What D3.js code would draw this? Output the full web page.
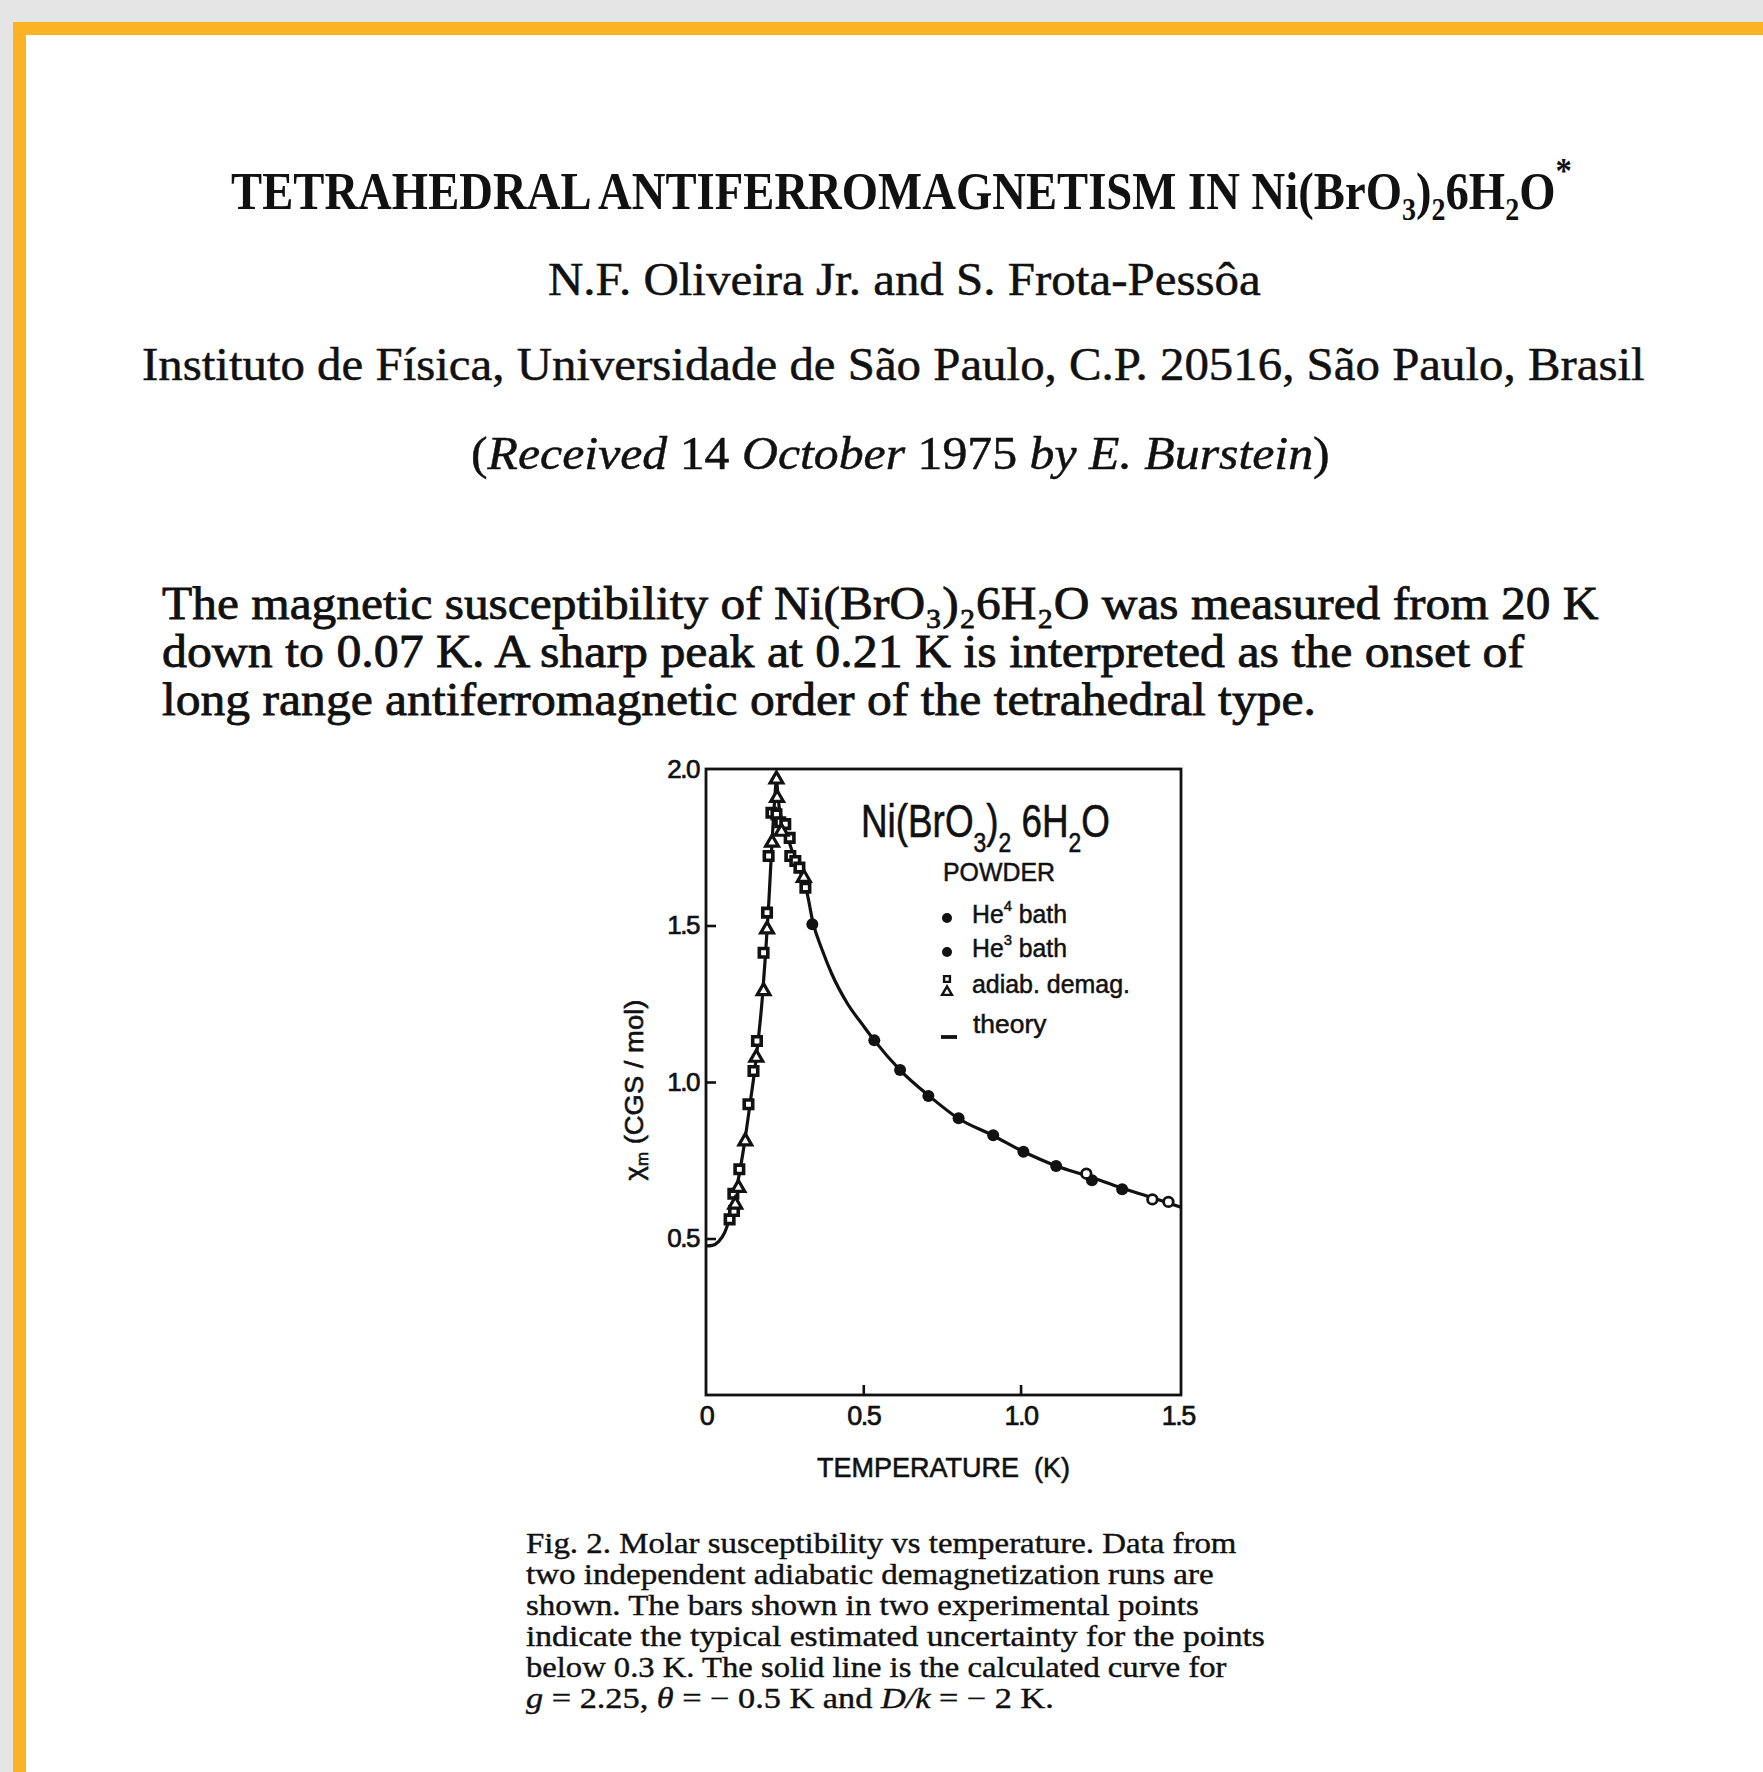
<!DOCTYPE html>
<html>
<head>
  <meta charset="UTF-8">
  <style>
    body { margin: 0; background: #e5e5e5; }
    svg { display: block; }
    text { white-space: pre; }
  </style>
</head>
<body>
<svg></svg>
<script src="https://d3js.org/d3.v7.min.js"></script>
<script>

// values: temperature (K) and molar susceptibility (CGS/mol)
const theoryT   = [0, 0.02, 0.04, 0.06, 0.08, 0.10, 0.12, 0.14, 0.16, 0.18, 0.19, 0.20, 0.21, 0.218, 0.224,
                   0.23, 0.24, 0.26, 0.28, 0.30, 0.32, 0.34, 0.37, 0.40, 0.45, 0.50, 0.535, 0.62, 0.71,
                   0.80, 0.91, 1.01, 1.11, 1.22, 1.32, 1.42, 1.51];
const theoryChi = [0.476, 0.478, 0.49, 0.52, 0.585, 0.675, 0.79, 0.93, 1.08, 1.28, 1.42, 1.58, 1.77, 1.90, 1.98,
                   1.90, 1.84, 1.78, 1.72, 1.67, 1.61, 1.51, 1.42, 1.345, 1.25, 1.18, 1.133, 1.035, 0.955,
                   0.885, 0.83, 0.777, 0.733, 0.697, 0.662, 0.63, 0.60];

const he3T   = [0.338, 0.535, 0.617, 0.707, 0.803, 0.913, 1.009, 1.113, 1.227, 1.323];
const he3Chi = [1.504, 1.133, 1.038, 0.955, 0.884, 0.830, 0.777, 0.732, 0.686, 0.657];

const he4T   = [1.209, 1.419, 1.47];
const he4Chi = [0.707, 0.625, 0.617];

// adiabatic demagnetization, run with squares
const sqT   = [0.075, 0.087, 0.089, 0.106, 0.135, 0.151, 0.162, 0.183, 0.194, 0.199, 0.208, 0.224,
               0.236, 0.252, 0.266, 0.268, 0.284, 0.297, 0.316];
const sqChi = [0.561, 0.643, 0.588, 0.721, 0.929, 1.035, 1.131, 1.413, 1.541, 1.722, 1.86, 1.855,
               1.83, 1.824, 1.78, 1.722, 1.706, 1.685, 1.621];

// adiabatic demagnetization, run with triangles
const triT   = [0.093, 0.103, 0.125, 0.16, 0.183, 0.194, 0.21, 0.224, 0.226, 0.24, 0.311];
const triChi = [0.609, 0.662, 0.811, 1.078, 1.291, 1.488, 1.765, 1.967, 1.908, 1.80, 1.653];

const xTicks = [0, 0.5, 1.0, 1.5];
const yTicks = [0.5, 1.0, 1.5, 2.0];

const width = 1763, height = 1772;
const ink = "#111";
const serif = "'Liberation Serif', 'DejaVu Serif', serif";
const sans = "'Liberation Sans', Arial, sans-serif";

let svg = d3.select("svg")
    .attr("width", width)
    .attr("height", height);

// page frame
svg.append("rect").attr("width", width).attr("height", height).attr("fill", "#e5e5e5");
svg.append("rect").attr("x", 13).attr("y", 22).attr("width", width - 13).attr("height", height - 22).attr("fill", "#fbb324");
svg.append("rect").attr("x", 26).attr("y", 35).attr("width", width - 26).attr("height", height - 35).attr("fill", "#fff");

// writes a line of text and squeezes it to the measured width
function fitText(x, y, w, size, family, weight, parts, heavy) {
    let g = svg.append("g");
    let t = g.append("text")
        .attr("font-family", family)
        .attr("font-size", size)
        .attr("font-weight", weight)
        .attr("fill", ink);
    if (heavy) t.attr("stroke", ink).attr("stroke-width", heavy);
    let shift = 0;
    parts.forEach(p => {
        let o = typeof p === "string" ? {t: p} : p;
        let target = o.sub ? size * (o.drop || 0.3) : o.sup ? -size * (o.rise || 0.45) : 0;
        let ts = t.append("tspan").text(o.t).attr("dy", target - shift);
        shift = target;
        if (o.sub || o.sup) ts.attr("font-size", size * (o.scale || 0.65));
        if (o.it) ts.attr("font-style", "italic");
    });
    let bb = t.node().getBBox();
    let s = w / bb.width;
    g.attr("transform", "translate(" + (x - bb.x * s) + "," + y + ") scale(" + s + ",1)");
    return g;
}

// header
fitText(231, 209, 1341, 52, serif, "bold",
    ["TETRAHEDRAL ANTIFERROMAGNETISM IN Ni(BrO", {t: "3", sub: true, drop: 0.22, scale: 0.6}, ")",
     {t: "2", sub: true, drop: 0.22, scale: 0.6}, "6H", {t: "2", sub: true, drop: 0.22, scale: 0.6}, "O",
     {t: "*", sup: true, rise: 0.5, scale: 0.7}]);
fitText(548, 295, 713, 47, serif, "normal", ["N.F. Oliveira Jr. and S. Frota-Pessôa"], 0.5);
fitText(142, 380, 1503, 47, serif, "normal",
    ["Instituto de Física, Universidade de São Paulo, C.P. 20516, São Paulo, Brasil"], 0.5);
fitText(471, 469, 859, 47, serif, "normal",
    ["(", {t: "Received", it: true}, " 14 ", {t: "October", it: true}, " 1975 ",
     {t: "by E. Burstein", it: true}, ")"], 0.5);

// abstract
fitText(162, 619, 1437, 46, serif, "normal",
    ["The magnetic susceptibility of Ni(BrO₃)₂6H₂O was measured from 20 K"], 0.8);
fitText(162, 667, 1363, 46, serif, "normal",
    ["down to 0.07 K. A sharp peak at 0.21 K is interpreted as the onset of"], 0.8);
fitText(162, 715, 1154, 46, serif, "normal",
    ["long range antiferromagnetic order of the tetrahedral type."], 0.8);

// caption
let capLines = [
    [["Fig. 2. Molar susceptibility vs temperature. Data from"], 711],
    [["two independent adiabatic demagnetization runs are"], 688],
    [["shown. The bars shown in two experimental points"], 673],
    [["indicate the typical estimated uncertainty for the points"], 739],
    [["below 0.3 K. The solid line is the calculated curve for"], 701],
    [[{t: "g", it: true}, " = 2.25, ", {t: "θ", it: true}, " = − 0.5 K and ", {t: "D/k", it: true}, " = − 2 K."], 528]
];
capLines.forEach((l, i) => fitText(526, 1553 + i * 31, l[1], 29, serif, "normal", l[0], 0.4));

// chart
let x = d3.scaleLinear().domain([0, 1.51]).range([706, 1181]);
let y = d3.scaleLinear().domain([0, 2]).range([1395, 769]);

svg.append("rect")
    .attr("x", x(0)).attr("y", y(2))
    .attr("width", x(1.51) - x(0)).attr("height", y(0) - y(2))
    .attr("fill", "none").attr("stroke", ink).attr("stroke-width", 2.8);

let fmt = d => d === 0 ? "0" : d3.format(".1f")(d);

svg.append("g")
    .attr("transform", "translate(0," + y(0) + ")")
    .call(d3.axisBottom(x).tickValues(xTicks).tickSize(-10).tickPadding(11).tickFormat(fmt))
    .call(g => g.select(".domain").remove())
    .call(g => g.selectAll(".tick line").filter(d => d === 0 || d === 1.5).remove())
    .call(g => g.selectAll(".tick line").attr("stroke", ink).attr("stroke-width", 2.6))
    .call(g => g.selectAll("text").attr("fill", ink).attr("stroke", ink).attr("stroke-width", 0.7).attr("letter-spacing", -1.5))
    .attr("font-family", sans).attr("font-size", 27);

svg.append("g")
    .attr("transform", "translate(" + x(0) + ",0)")
    .call(d3.axisLeft(y).tickValues(yTicks).tickSize(-10).tickPadding(7).tickFormat(fmt))
    .call(g => g.select(".domain").remove())
    .call(g => g.selectAll(".tick line").filter(d => d === 2).remove())
    .call(g => g.selectAll(".tick line").attr("stroke", ink).attr("stroke-width", 2.6))
    .call(g => g.selectAll("text").attr("fill", ink).attr("stroke", ink).attr("stroke-width", 0.7).attr("letter-spacing", -1.5))
    .attr("font-family", sans).attr("font-size", 26);

fitText(817, 1477, 253, 28, sans, "normal", ["TEMPERATURE  (K)"], 0.6);

// rotated y label
let yl = svg.append("g").attr("transform", "translate(643,1090) rotate(-90)");
let ylInner = yl.append("g");
let ylText = ylInner.append("text")
    .attr("text-anchor", "middle")
    .attr("font-family", sans).attr("font-size", 26).attr("fill", ink)
    .attr("stroke", ink).attr("stroke-width", 0.6);
ylText.append("tspan").text("χ");
ylText.append("tspan").text("m").attr("font-size", 16).attr("dy", 5);
ylText.append("tspan").text(" (CGS / mol)").attr("dy", -5);
let ylw = ylText.node().getBBox().width;
ylInner.attr("transform", "scale(" + (181 / ylw) + ",1)");

// theory curve, drawn in two halves so the peak stays sharp
let theory = theoryT.map((t, i) => [t, theoryChi[i]]);
let peak = d3.maxIndex(theoryChi);
let line = d3.line().x(d => x(d[0])).y(d => y(d[1])).curve(d3.curveMonotoneX);
[theory.slice(0, peak + 1), theory.slice(peak)].forEach(part => {
    svg.append("path")
        .attr("d", line(part))
        .attr("fill", "none")
        .attr("stroke", ink)
        .attr("stroke-width", 3.2);
});

// data points
let sqData = sqT.map((t, i) => [t, sqChi[i]]);
let triData = triT.map((t, i) => [t, triChi[i]]);
let he3Data = he3T.map((t, i) => [t, he3Chi[i]]);
let he4Data = he4T.map((t, i) => [t, he4Chi[i]]);

svg.append("g").selectAll("path")
    .data(sqData)
    .enter()
        .append("path")
        .attr("d", d3.symbol(d3.symbolSquare, 72))
        .attr("transform", d => "translate(" + x(d[0]) + "," + y(d[1]) + ")")
        .attr("fill", "#fff").attr("stroke", ink).attr("stroke-width", 3.6);

svg.append("g").selectAll("path")
    .data(triData)
    .enter()
        .append("path")
        .attr("d", d3.symbol(d3.symbolTriangle, 70))
        .attr("transform", d => "translate(" + x(d[0]) + "," + y(d[1]) + ")")
        .attr("fill", "#fff").attr("stroke", ink).attr("stroke-width", 3.2);

svg.append("g").selectAll("circle")
    .data(he3Data)
    .enter()
        .append("circle")
        .attr("cx", d => x(d[0])).attr("cy", d => y(d[1]))
        .attr("r", 6).attr("fill", ink);

svg.append("g").selectAll("circle")
    .data(he4Data)
    .enter()
        .append("circle")
        .attr("cx", d => x(d[0])).attr("cy", d => y(d[1]))
        .attr("r", 4.8).attr("fill", "#fff").attr("stroke", ink).attr("stroke-width", 2.8);

// legend
fitText(861, 837, 249, 46, sans, "normal",
    ["Ni(BrO", {t: "3", sub: true, drop: 0.33, scale: 0.62}, ")", {t: "2", sub: true, drop: 0.33, scale: 0.62},
     " 6H", {t: "2", sub: true, drop: 0.33, scale: 0.62}, "O"], 0.6);
fitText(943, 881, 112, 26, sans, "normal", ["POWDER"], 0.5);
fitText(972, 923, 95, 25, sans, "normal", ["He", {t: "4", sup: true, rise: 0.5, scale: 0.6}, " bath"], 0.5);
fitText(972, 957, 95, 25, sans, "normal", ["He", {t: "3", sup: true, rise: 0.5, scale: 0.6}, " bath"], 0.5);
fitText(972, 993, 158, 25, sans, "normal", ["adiab. demag."], 0.5);
fitText(973, 1033, 74, 25, sans, "normal", ["theory"], 0.5);

svg.append("circle").attr("cx", 947).attr("cy", 918).attr("r", 5).attr("fill", ink);
svg.append("circle").attr("cx", 947).attr("cy", 952).attr("r", 5).attr("fill", ink);
svg.append("path").attr("d", d3.symbol(d3.symbolSquare, 34)).attr("transform", "translate(947,979)")
    .attr("fill", "#fff").attr("stroke", ink).attr("stroke-width", 2.4);
svg.append("path").attr("d", d3.symbol(d3.symbolTriangle, 42)).attr("transform", "translate(947,992)")
    .attr("fill", "#fff").attr("stroke", ink).attr("stroke-width", 2.4);
svg.append("line").attr("x1", 941).attr("x2", 957).attr("y1", 1037).attr("y2", 1037)
    .attr("stroke", ink).attr("stroke-width", 3.8);

</script>
</body>
</html>
